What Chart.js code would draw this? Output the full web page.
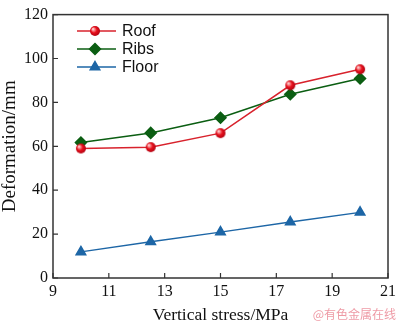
<!DOCTYPE html>
<html>
<head>
<meta charset="utf-8">
<script src="https://cdn.jsdelivr.net/npm/chart.js@4/dist/chart.umd.min.js"></script>
<style>
  body { margin: 0; background: #fff; }
  #wrap { width: 400px; height: 321px; }
</style>
</head>
<body>
<div id="wrap"><canvas id="chartDeformacion" width="400" height="321"></canvas></div>
<script>
// stress levels (MPa) and measured deformation (mm)
const stress = [10, 12.5, 15, 17.5, 20];
const roof = [59, 59.6, 66, 87.8, 95.1];
const ribs = [61.7, 66.1, 73, 83.7, 90.9];
const floor = [11.9, 16.5, 20.9, 25.5, 29.9];
const seriesNames = ['Roof', 'Ribs', 'Floor'];

const serif = 'Liberation Serif, Times New Roman, serif';
const sans = 'Liberation Sans, Arial, sans-serif';

// little shaded ball for the roof markers
function sphere(r, base, light) {
    const c = document.createElement('canvas');
    c.width = c.height = r * 2 + 2;
    const g = c.getContext('2d');
    const grad = g.createRadialGradient(r - 1, r - 1, 0.5, r + 1, r + 1, r + 1);
    grad.addColorStop(0, light);
    grad.addColorStop(0.45, base);
    grad.addColorStop(1, '#a00010');
    g.fillStyle = grad;
    g.beginPath();
    g.arc(r + 1, r + 1, r, 0, Math.PI * 2);
    g.fill();
    return c;
}
const roofDot = sphere(5, '#e8101c', '#ffd0d0');

const pts = ys => stress.map((x, i) => ({ x: x, y: ys[i] }));

const frame = {
    id: 'frame',
    afterDraw(chart) {
        const { ctx, chartArea: a, scales } = chart;
        ctx.save();
        ctx.strokeStyle = '#333';
        ctx.lineWidth = 1.5;
        ctx.strokeRect(a.left, a.top, a.right - a.left, a.bottom - a.top);
        // inward ticks
        ctx.lineWidth = 1.2;
        ctx.beginPath();
        scales.x.ticks.forEach(t => {
            const px = scales.x.getPixelForValue(t.value);
            ctx.moveTo(px, a.bottom);
            ctx.lineTo(px, a.bottom - 5);
        });
        scales.y.ticks.forEach(t => {
            const py = scales.y.getPixelForValue(t.value);
            ctx.moveTo(a.left, py);
            ctx.lineTo(a.left + 5, py);
        });
        ctx.stroke();

        // legend inside the plot
        chart.data.datasets.forEach((ds, i) => {
            const y = 31 + i * 18;
            ctx.strokeStyle = ds.borderColor;
            ctx.lineWidth = 1.5;
            ctx.beginPath();
            ctx.moveTo(77, y);
            ctx.lineTo(116, y);
            ctx.stroke();
            ctx.fillStyle = ds.pointBackgroundColor || ds.borderColor;
            ctx.strokeStyle = ds.pointBorderColor || ds.borderColor;
            Chart.helpers.drawPoint(ctx, {
                pointStyle: ds.pointStyle,
                radius: ds.pointRadius,
                rotation: 0,
                borderWidth: 1
            }, 95, y);
            ctx.fillStyle = '#111';
            ctx.font = '16px ' + sans;
            ctx.textBaseline = 'middle';
            ctx.textAlign = 'left';
            ctx.fillText(ds.label, 122, y + 1);
        });

        ctx.fillStyle = 'rgba(232, 120, 135, 0.75)';
        ctx.font = '12px "Noto Sans CJK SC", sans-serif';
        ctx.textAlign = 'right';
        ctx.textBaseline = 'middle';
        ctx.fillText('@有色金属在线', 396, 314);
        ctx.restore();
    }
};

new Chart(document.getElementById('chartDeformacion'), {
    type: 'line',
    data: {
        datasets: [{
            label: seriesNames[0],
            data: pts(roof),
            borderColor: '#d8222c',
            borderWidth: 1.5,
            pointStyle: roofDot,
            pointRadius: 5,
            fill: false
        }, {
            label: seriesNames[1],
            data: pts(ribs),
            borderColor: '#0b5e12',
            borderWidth: 1.5,
            pointStyle: 'rectRot',
            pointRadius: 5.5,
            pointBackgroundColor: '#0b5e12',
            pointBorderColor: '#0b5e12',
            fill: false
        }, {
            label: seriesNames[2],
            data: pts(floor),
            borderColor: '#1d66a6',
            borderWidth: 1.5,
            pointStyle: 'triangle',
            pointRadius: 5.5,
            pointBackgroundColor: '#1d66a6',
            pointBorderColor: '#1d66a6',
            fill: false
        }]
    },
    options: {
        responsive: false,
        animation: false,
        layout: { padding: { top: 6, right: 8, left: 0, bottom: 0 } },
        plugins: { legend: { display: false }, tooltip: { enabled: false } },
        scales: {
            x: {
                type: 'linear',
                min: 9,
                max: 21,
                afterFit: s => { s.height = 43; },
                grid: { display: false, drawTicks: false },
                border: { display: false },
                ticks: { stepSize: 2, padding: 4, color: '#111', font: { family: serif, size: 16 } },
                title: { display: true, text: 'Vertical stress/MPa', color: '#111', padding: { top: 0, bottom: -4.5 }, font: { family: serif, size: 17.5 } }
            },
            y: {
                min: 0,
                max: 120,
                afterFit: s => { s.width = 53; },
                grid: { display: false, drawTicks: false },
                border: { display: false },
                ticks: { stepSize: 20, padding: 5, color: '#111', font: { family: serif, size: 16 } },
                title: { display: true, text: 'Deformation/mm', color: '#111', padding: { top: -1.5, bottom: 0 }, font: { family: serif, size: 19 } }
            }
        }
    },
    plugins: [frame]
});
</script>
</body>
</html>
